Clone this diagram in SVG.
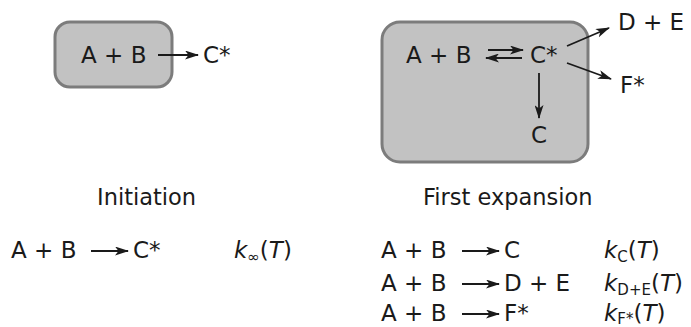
<svg xmlns="http://www.w3.org/2000/svg" width="691" height="327" viewBox="0 0 691 327">
  <defs>
    <style>
      text { font-family: "DejaVu Sans", "Liberation Sans", sans-serif; font-size: 23px; fill: #1a1a1a; }
      .box { fill: #c2c2c2; stroke: #7c7c7c; stroke-width: 3; }
      .arrow { stroke: #1a1a1a; stroke-width: 1.8; fill: none; marker-end: url(#head); }
      .it { font-style: italic; }
      .sub { font-size: 15px; }
      .caption { font-size: 22.5px; }
    </style>
    <marker id="head" viewBox="0 0 14 9" refX="13" refY="4.5" markerWidth="14" markerHeight="9" markerUnits="userSpaceOnUse" orient="auto">
      <path d="M0,0 L14,4.5 L0,9 L3.5,4.5 z" fill="#1a1a1a"/>
    </marker>
  </defs>

  <!-- Initiation panel -->
  <g id="initiation-box">
    <rect class="box" x="55" y="22" width="117" height="65" rx="15"/>
    <text x="81" y="63">A + B</text>
  </g>
  <g id="initiation-product">
    <text x="203" y="63">C*</text>
  </g>

  <!-- First expansion panel -->
  <g id="expansion-box">
    <rect class="box" x="382" y="22" width="206" height="140" rx="18"/>
    <text x="406" y="63">A + B</text>
    <text x="530" y="63">C*</text>
    <text x="531" y="143">C</text>
  </g>
  <g id="product-de">
    <text x="618" y="30">D + E</text>
  </g>
  <g id="product-f">
    <text x="620" y="93">F*</text>
  </g>

  <g id="connectors">
    <line class="arrow" x1="158" y1="55" x2="198" y2="55"/>
    <line class="arrow" x1="488" y1="50" x2="523" y2="50"/>
    <line class="arrow" x1="522" y1="58" x2="486" y2="58"/>
    <line class="arrow" x1="539" y1="73" x2="539" y2="118"/>
    <line class="arrow" x1="567" y1="46" x2="609" y2="28"/>
    <line class="arrow" x1="567" y1="63" x2="611" y2="79"/>
  </g>

  <!-- Captions -->
  <text class="caption" x="97" y="205">Initiation</text>
  <text class="caption" x="423" y="205">First expansion</text>

  <!-- Rate expressions -->
  <g id="rates">
    <text x="11" y="258">A + B</text>
    <line class="arrow" x1="91" y1="251" x2="128" y2="251"/>
    <text x="133" y="258">C*</text>
    <text x="234" y="258"><tspan class="it">k</tspan><tspan class="sub" dy="4">∞</tspan><tspan dy="-4">(</tspan><tspan class="it">T</tspan>)</text>

    <text x="381" y="258">A + B</text>
    <line class="arrow" x1="462" y1="251" x2="499" y2="251"/>
    <text x="504" y="258">C</text>
    <text x="604" y="258"><tspan class="it">k</tspan><tspan class="sub" dy="4">C</tspan><tspan dy="-4">(</tspan><tspan class="it">T</tspan>)</text>

    <text x="381" y="291">A + B</text>
    <line class="arrow" x1="462" y1="284" x2="499" y2="284"/>
    <text x="504" y="291">D + E</text>
    <text x="604" y="291"><tspan class="it">k</tspan><tspan class="sub" dy="4">D+E</tspan><tspan dy="-4">(</tspan><tspan class="it">T</tspan>)</text>

    <text x="381" y="321">A + B</text>
    <line class="arrow" x1="462" y1="314" x2="499" y2="314"/>
    <text x="504" y="321">F*</text>
    <text x="604" y="321"><tspan class="it">k</tspan><tspan class="sub" dy="3">F*</tspan><tspan dy="-3">(</tspan><tspan class="it">T</tspan>)</text>
  </g>
</svg>
